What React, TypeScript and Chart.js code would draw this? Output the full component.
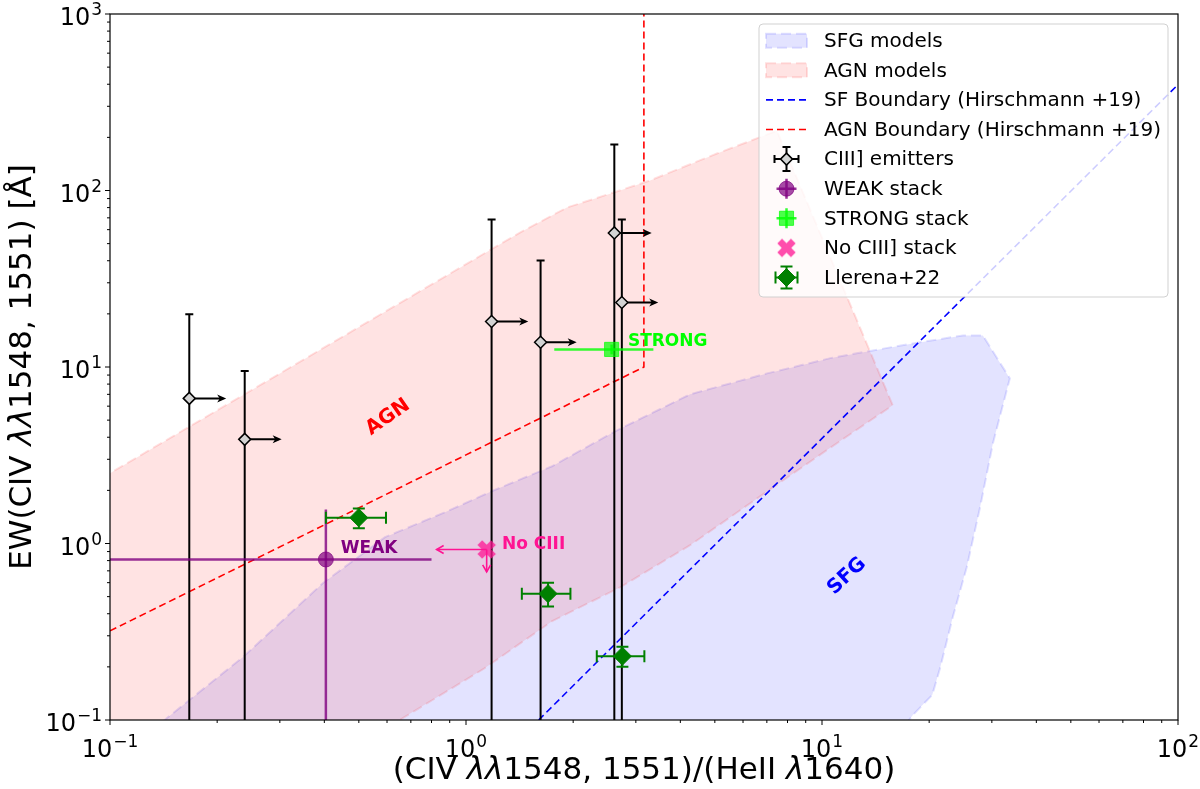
import { useEffect, useRef } from 'react';
import { Chart, registerables } from 'chart.js';

Chart.register(...registerables);

const FONT = "'DejaVu Sans', 'Liberation Sans', sans-serif";

// Tick decades (powers of ten) on each axis
const xDecades = [-1, 0, 1, 2];
const yDecades = [-1, 0, 1, 2, 3];

// Photoionisation model grids: outline of the SFG region
const sfgRatio = [0.13, 0.1445, 0.2365, 0.396, 0.592, 0.873, 1.198, 1.745, 2.656, 4.26, 7.01, 10.7, 18.0, 24.9, 28.3, 33.7, 30.2, 27.8, 25.5, 23.3, 21.5, 20.4, 18.0, 16.5, 0.13];
const sfgEW = [0.085, 0.1026, 0.2275, 0.596, 1.086, 1.503, 2.003, 2.74, 4.38, 7.0, 9.2, 11.3, 13.6, 15.1, 15.1, 8.62, 3.69, 1.605, 0.734, 0.383, 0.1995, 0.1386, 0.1067, 0.085, 0.085];

// Outline of the AGN region
const agnRatio = [0.08, 0.1, 1.418, 1.921, 2.54, 3.29, 5.07, 7.47, 15.8, 10.4, 6.65, 4.26, 2.72, 1.745, 1.117, 0.714, 0.37, 0.08, 0.08];
const agnEW = [1.92, 2.5, 57.8, 80, 96, 114, 162, 218, 6.07, 3.42, 1.83, 0.978, 0.567, 0.363, 0.194, 0.112, 0.05, 0.05, 1.92];

// Hirschmann et al. (2019) demarcation lines
const sfBoundaryRatio = [1.6, 100];
const sfBoundaryEW = [0.1, 398];
const agnBoundaryRatio = [0.1, 3.16, 3.16];
const agnBoundaryEW = [0.32, 10, 1000];

// Individual CIII] emitters (ratios are lower limits)
const ciiiRatio = [0.167, 0.239, 1.18, 1.62, 2.61, 2.74];
const ciiiEW = [6.64, 3.89, 18.1, 13.8, 57.5, 23.2];
const ciiiEWLow = [0.01, 0.01, 0.01, 0.01, 0.01, 0.01];
const ciiiEWHigh = [19.9, 9.49, 68.4, 40.1, 182, 68.4];
const ciiiRatioLimit = [0.212, 0.3035, 1.496, 2.046, 3.324, 3.467];

// Stacked spectra
const weakRatio = [0.404];
const weakEW = [0.812];
const weakRatioLow = [0.02];
const weakRatioHigh = [0.8];
const weakEWLow = [0.01];
const weakEWHigh = [1.556];

const strongRatio = [2.565];
const strongEW = [12.58];
const strongRatioLow = [1.77];
const strongRatioHigh = [3.36];
const strongEWLow = [11.8];
const strongEWHigh = [13.4];

const noCiiiRatio = [1.143];
const noCiiiEW = [0.925];
const noCiiiRatioLimit = [0.827];
const noCiiiEWLimit = [0.69];

// Llerena et al. (2022)
const llerenaRatio = [0.5, 1.7, 2.75];
const llerenaRatioErr = [0.096, 0.265, 0.42];
const llerenaEW = [1.4, 0.52, 0.23];
const llerenaEWErr = [0.18, 0.08, 0.03];

// In-plot text labels (data coordinates)
const regionLabels = [
  { text: 'AGN', x: 0.604, y: 5.19, angle: 35, color: '#ff0000' },
  { text: 'SFG', x: 11.75, y: 0.653, angle: 43, color: '#0000ff' },
];
const stackLabels = [
  { text: 'WEAK', x: 0.445, y: 0.881, color: '#800080' },
  { text: 'STRONG', x: 2.85, y: 13.08, color: '#00ff00' },
  { text: 'No CIII', x: 1.262, y: 0.929, color: '#ff1493' },
];

const pts = (xs: number[], ys: number[]) => xs.map((x, i) => ({ x, y: ys[i] }));

function makeXMarker(size: number, color: string) {
  const c = document.createElement('canvas');
  c.width = size;
  c.height = size;
  const g = c.getContext('2d')!;
  g.translate(size / 2, size / 2);
  g.rotate(Math.PI / 4);
  const arm = size * 0.46;
  const w = size * 0.16;
  g.fillStyle = color;
  g.beginPath();
  g.moveTo(-w, -arm); g.lineTo(w, -arm); g.lineTo(w, -w); g.lineTo(arm, -w);
  g.lineTo(arm, w); g.lineTo(w, w); g.lineTo(w, arm); g.lineTo(-w, arm);
  g.lineTo(-w, w); g.lineTo(-arm, w); g.lineTo(-arm, -w); g.lineTo(-w, -w);
  g.closePath();
  g.fill();
  return c;
}

function arrow(ctx: CanvasRenderingContext2D, x0: number, y0: number, x1: number, y1: number, filled: boolean) {
  const ang = Math.atan2(y1 - y0, x1 - x0);
  const len = filled ? 9 : 7;
  const hw = 4;
  ctx.beginPath();
  ctx.moveTo(x0, y0);
  ctx.lineTo(filled ? x1 - Math.cos(ang) * 3 : x1, filled ? y1 - Math.sin(ang) * 3 : y1);
  ctx.stroke();
  const bx = x1 - Math.cos(ang) * len;
  const by = y1 - Math.sin(ang) * len;
  const nx = -Math.sin(ang) * hw;
  const ny = Math.cos(ang) * hw;
  ctx.beginPath();
  if (filled) {
    ctx.moveTo(x1, y1);
    ctx.lineTo(bx + nx, by + ny);
    ctx.lineTo(bx + Math.cos(ang) * 2.5, by + Math.sin(ang) * 2.5);
    ctx.lineTo(bx - nx, by - ny);
    ctx.closePath();
    ctx.fill();
  } else {
    ctx.moveTo(bx + nx, by + ny);
    ctx.lineTo(x1, y1);
    ctx.lineTo(bx - nx, by - ny);
    ctx.stroke();
  }
}

const errorBarPlugin = {
  id: 'errorBars',
  beforeDatasetDraw(chart: any, args: any) {
    const ds = chart.data.datasets[args.index];
    const eb = ds.errorBars;
    if (!eb) return;
    const { ctx, chartArea: a } = chart;
    const X = (v: number) => chart.scales.x.getPixelForValue(v);
    const Y = (v: number) => chart.scales.y.getPixelForValue(v);
    ctx.save();
    ctx.beginPath();
    ctx.rect(a.left, a.top, a.right - a.left, a.bottom - a.top);
    ctx.clip();
    ctx.strokeStyle = eb.color;
    ctx.fillStyle = eb.color;
    ctx.lineWidth = eb.width;
    ctx.lineCap = 'butt';
    ds.data.forEach((p: any, i: number) => {
      const px = X(p.x);
      const py = Y(p.y);
      if (eb.yLow) {
        const y0 = Y(eb.yLow[i]);
        const y1 = Y(eb.yHigh[i]);
        ctx.beginPath(); ctx.moveTo(px, y0); ctx.lineTo(px, y1); ctx.stroke();
        if (eb.cap) {
          ctx.beginPath();
          ctx.moveTo(px - eb.cap, y0); ctx.lineTo(px + eb.cap, y0);
          ctx.moveTo(px - eb.cap, y1); ctx.lineTo(px + eb.cap, y1);
          ctx.stroke();
        }
      }
      if (eb.xLow) {
        const x0 = X(eb.xLow[i]);
        const x1 = X(eb.xHigh[i]);
        ctx.beginPath(); ctx.moveTo(x0, py); ctx.lineTo(x1, py); ctx.stroke();
        if (eb.cap) {
          ctx.beginPath();
          ctx.moveTo(x0, py - eb.cap); ctx.lineTo(x0, py + eb.cap);
          ctx.moveTo(x1, py - eb.cap); ctx.lineTo(x1, py + eb.cap);
          ctx.stroke();
        }
      }
      if (eb.xArrow) arrow(ctx, px, py, X(eb.xArrow[i]), py, eb.filledHead);
      if (eb.yArrow) arrow(ctx, px, py, px, Y(eb.yArrow[i]), eb.filledHead);
    });
    ctx.restore();
  },
};

function supLabel(ctx: CanvasRenderingContext2D, exp: number) {
  const main = '10';
  const sup = exp < 0 ? '\u2212' + Math.abs(exp) : String(exp);
  ctx.font = `24px ${FONT}`;
  const wm = ctx.measureText(main).width;
  ctx.font = `17px ${FONT}`;
  const ws = ctx.measureText(sup).width;
  return { main, sup, wm, ws };
}

function drawSup(ctx: CanvasRenderingContext2D, exp: number, left: number, baseline: number) {
  const s = supLabel(ctx, exp);
  ctx.fillStyle = '#000';
  ctx.textAlign = 'left';
  ctx.textBaseline = 'alphabetic';
  ctx.font = `24px ${FONT}`;
  ctx.fillText(s.main, left, baseline);
  ctx.font = `17px ${FONT}`;
  ctx.fillText(s.sup, left + s.wm + 1, baseline - 10);
}

function drawSegments(ctx: CanvasRenderingContext2D, segs: [string, boolean][], size: number, cx: number, baseline: number) {
  const widths = segs.map(([t, it]) => {
    ctx.font = `${it ? 'oblique ' : ''}${size}px ${FONT}`;
    return ctx.measureText(t).width;
  });
  const total = widths.reduce((a, b) => a + b, 0);
  let x = cx - total / 2;
  ctx.textAlign = 'left';
  ctx.textBaseline = 'alphabetic';
  ctx.fillStyle = '#000';
  segs.forEach(([t, it], i) => {
    ctx.font = `${it ? 'oblique ' : ''}${size}px ${FONT}`;
    ctx.fillText(t, x, baseline);
    x += widths[i];
  });
}

const axesPlugin = {
  id: 'axesDecor',
  afterDatasetsDraw(chart: any) {
    const { ctx, chartArea: a } = chart;
    const xs = chart.scales.x;
    const ys = chart.scales.y;
    ctx.save();

    // in-plot labels
    regionLabels.forEach((l) => {
      ctx.save();
      ctx.translate(xs.getPixelForValue(l.x), ys.getPixelForValue(l.y));
      ctx.rotate((-l.angle * Math.PI) / 180);
      ctx.font = `bold 20px ${FONT}`;
      ctx.fillStyle = l.color;
      ctx.textAlign = 'center';
      ctx.textBaseline = 'middle';
      ctx.fillText(l.text, 0, 0);
      ctx.restore();
    });
    stackLabels.forEach((l) => {
      ctx.font = `bold 17px ${FONT}`;
      ctx.fillStyle = l.color;
      ctx.textAlign = 'left';
      ctx.textBaseline = 'alphabetic';
      ctx.fillText(l.text, xs.getPixelForValue(l.x), ys.getPixelForValue(l.y));
    });

    // spines
    ctx.strokeStyle = '#000';
    ctx.lineWidth = 1.2;
    ctx.strokeRect(a.left, a.top, a.right - a.left, a.bottom - a.top);

    // ticks
    ctx.lineWidth = 1;
    ctx.beginPath();
    xDecades.forEach((d, k) => {
      const px = xs.getPixelForValue(Math.pow(10, d));
      ctx.moveTo(px, a.bottom); ctx.lineTo(px, a.bottom + 5);
      if (k < xDecades.length - 1) {
        for (let m = 2; m <= 9; m++) {
          const mx = xs.getPixelForValue(m * Math.pow(10, d));
          ctx.moveTo(mx, a.bottom); ctx.lineTo(mx, a.bottom + 3);
        }
      }
    });
    yDecades.forEach((d, k) => {
      const py = ys.getPixelForValue(Math.pow(10, d));
      ctx.moveTo(a.left, py); ctx.lineTo(a.left - 5, py);
      if (k < yDecades.length - 1) {
        for (let m = 2; m <= 9; m++) {
          const my = ys.getPixelForValue(m * Math.pow(10, d));
          ctx.moveTo(a.left, my); ctx.lineTo(a.left - 3, my);
        }
      }
    });
    ctx.stroke();

    // tick labels
    xDecades.forEach((d) => {
      const px = xs.getPixelForValue(Math.pow(10, d));
      const s = supLabel(ctx, d);
      const w = s.wm + 1 + s.ws;
      drawSup(ctx, d, px - w / 2, a.bottom + 37);
    });
    yDecades.forEach((d) => {
      const py = ys.getPixelForValue(Math.pow(10, d));
      const s = supLabel(ctx, d);
      const w = s.wm + 1 + s.ws;
      drawSup(ctx, d, a.left - 8 - w, py + 11);
    });

    // axis titles
    drawSegments(ctx, [['(CIV ', false], ['\u03bb\u03bb', true], ['1548, 1551)/(HeII ', false], ['\u03bb', true], ['1640)', false]], 31, (a.left + a.right) / 2, 779);
    ctx.save();
    ctx.translate(31, (a.top + a.bottom) / 2);
    ctx.rotate(-Math.PI / 2);
    drawSegments(ctx, [['EW(CIV ', false], ['\u03bb\u03bb', true], ['1548, 1551) [\u00c5]', false]], 31, 0, 0);
    ctx.restore();

    ctx.restore();
  },
};

function legendPlugin(xMarker: HTMLCanvasElement) {
  return {
    id: 'customLegend',
    afterDraw(chart: any) {
      const { ctx } = chart;
      const left = 759, top = 24, right = 1168, bottom = 297;
      ctx.save();
      ctx.beginPath();
      const r = 4;
      ctx.moveTo(left + r, top);
      ctx.arcTo(right, top, right, bottom, r);
      ctx.arcTo(right, bottom, left, bottom, r);
      ctx.arcTo(left, bottom, left, top, r);
      ctx.arcTo(left, top, right, top, r);
      ctx.closePath();
      ctx.fillStyle = 'rgba(255,255,255,0.8)';
      ctx.fill();
      ctx.strokeStyle = 'rgba(204,204,204,0.9)';
      ctx.lineWidth = 1;
      ctx.stroke();

      const hx0 = 766, hx1 = 807, hc = 786.5;
      chart.data.datasets.forEach((ds: any, i: number) => {
        const y = 40.7 + i * 29.6;
        const kind = ds.legendKind;
        ctx.save();
        if (kind === 'patch') {
          ctx.fillStyle = ds.backgroundColor;
          ctx.fillRect(hx0, y - 7, hx1 - hx0, 14);
          ctx.strokeStyle = ds.borderColor;
          ctx.lineWidth = 2;
          ctx.setLineDash([10, 5]);
          ctx.strokeRect(hx0, y - 7, hx1 - hx0, 14);
        } else if (kind === 'line') {
          ctx.strokeStyle = ds.borderColor;
          ctx.lineWidth = ds.borderWidth;
          ctx.setLineDash(ds.borderDash);
          ctx.beginPath(); ctx.moveTo(hx0, y); ctx.lineTo(hx1, y); ctx.stroke();
        } else if (kind === 'marker') {
          const eb = ds.errorBars;
          if (eb && !eb.noLegendBars) {
            ctx.strokeStyle = eb.color;
            ctx.lineWidth = eb.width;
            const ext = eb.legendExt || 10;
            ctx.beginPath();
            ctx.moveTo(hc - ext, y); ctx.lineTo(hc + ext, y);
            ctx.moveTo(hc, y - ext); ctx.lineTo(hc, y + ext);
            if (eb.cap) {
              ctx.moveTo(hc - ext, y - eb.cap); ctx.lineTo(hc - ext, y + eb.cap);
              ctx.moveTo(hc + ext, y - eb.cap); ctx.lineTo(hc + ext, y + eb.cap);
              ctx.moveTo(hc - eb.cap, y - ext); ctx.lineTo(hc + eb.cap, y - ext);
              ctx.moveTo(hc - eb.cap, y + ext); ctx.lineTo(hc + eb.cap, y + ext);
            }
            ctx.stroke();
          }
          const style = ds.pointStyle;
          const rad = ds.pointRadius;
          if (style instanceof HTMLCanvasElement) {
            ctx.drawImage(xMarker, hc - style.width / 2, y - style.height / 2);
          } else {
            ctx.fillStyle = ds.backgroundColor;
            ctx.strokeStyle = ds.borderColor;
            ctx.lineWidth = ds.borderWidth;
            ctx.beginPath();
            if (style === 'rectRot') {
              ctx.moveTo(hc, y - rad); ctx.lineTo(hc + rad, y); ctx.lineTo(hc, y + rad); ctx.lineTo(hc - rad, y); ctx.closePath();
            } else if (style === 'rect') {
              const h = rad * Math.SQRT1_2;
              ctx.rect(hc - h, y - h, 2 * h, 2 * h);
            } else {
              ctx.arc(hc, y, rad, 0, Math.PI * 2);
            }
            ctx.fill();
            if (ds.borderWidth) ctx.stroke();
          }
        }
        ctx.restore();
        ctx.fillStyle = '#000';
        ctx.font = `20px ${FONT}`;
        ctx.textAlign = 'left';
        ctx.textBaseline = 'middle';
        ctx.fillText(ds.label, 824, y + 1);
      });
      ctx.restore();
    },
  };
}

export default function App() {
  const ref = useRef<HTMLCanvasElement>(null);

  useEffect(() => {
    const canvas = ref.current!;
    const xMarker = makeXMarker(21, 'rgba(255,20,147,0.75)');

    const datasets: any[] = [
      {
        type: 'line', label: 'SFG models', legendKind: 'patch',
        data: pts(sfgRatio, sfgEW), fill: 'shape',
        backgroundColor: 'rgba(0,0,255,0.11)', borderColor: 'rgba(0,0,255,0.12)',
        borderDash: [10, 5], borderWidth: 2, pointRadius: 0, tension: 0, order: 20,
      },
      {
        type: 'line', label: 'AGN models', legendKind: 'patch',
        data: pts(agnRatio, agnEW), fill: 'shape',
        backgroundColor: 'rgba(255,0,0,0.11)', borderColor: 'rgba(255,0,0,0.12)',
        borderDash: [10, 5], borderWidth: 2, pointRadius: 0, tension: 0, order: 19,
      },
      {
        type: 'line', label: 'SF Boundary (Hirschmann +19)', legendKind: 'line',
        data: pts(sfBoundaryRatio, sfBoundaryEW), fill: false,
        borderColor: '#0000ff', borderDash: [7, 4], borderWidth: 1.6, pointRadius: 0, order: 18,
      },
      {
        type: 'line', label: 'AGN Boundary (Hirschmann +19)', legendKind: 'line',
        data: pts(agnBoundaryRatio, agnBoundaryEW), fill: false,
        borderColor: '#ff0000', borderDash: [7, 4], borderWidth: 1.6, pointRadius: 0, order: 17,
      },
      {
        label: 'CIII] emitters', legendKind: 'marker',
        data: pts(ciiiRatio, ciiiEW),
        pointStyle: 'rectRot', pointRadius: 6, backgroundColor: '#d3d3d3', borderColor: '#000000', borderWidth: 1.5,
        errorBars: { yLow: ciiiEWLow, yHigh: ciiiEWHigh, xArrow: ciiiRatioLimit, color: '#000000', width: 2, cap: 4, filledHead: true, legendExt: 12 },
        order: 16,
      },
      {
        label: 'WEAK stack', legendKind: 'marker',
        data: pts(weakRatio, weakEW),
        pointStyle: 'circle', pointRadius: 7.5, backgroundColor: 'rgba(128,0,128,0.7)', borderColor: 'rgba(128,0,128,0.7)', borderWidth: 1,
        errorBars: { xLow: weakRatioLow, xHigh: weakRatioHigh, yLow: weakEWLow, yHigh: weakEWHigh, color: 'rgba(128,0,128,0.8)', width: 2.5, cap: 0, legendExt: 10 },
        order: 15,
      },
      {
        label: 'STRONG stack', legendKind: 'marker',
        data: pts(strongRatio, strongEW),
        pointStyle: 'rect', pointRadius: 10, backgroundColor: 'rgba(0,255,0,0.7)', borderColor: 'rgba(0,255,0,0.7)', borderWidth: 1,
        errorBars: { xLow: strongRatioLow, xHigh: strongRatioHigh, yLow: strongEWLow, yHigh: strongEWHigh, color: 'rgba(0,255,0,0.8)', width: 2.5, cap: 0, legendExt: 10 },
        order: 14,
      },
      {
        label: 'No CIII] stack', legendKind: 'marker',
        data: pts(noCiiiRatio, noCiiiEW),
        pointStyle: xMarker, pointRadius: 10, backgroundColor: 'rgba(255,20,147,0.75)', borderWidth: 0,
        errorBars: { xArrow: noCiiiRatioLimit, yArrow: noCiiiEWLimit, color: '#ff1493', width: 1.6, cap: 0, filledHead: false, noLegendBars: true },
        order: 13,
      },
      {
        label: 'Llerena+22', legendKind: 'marker',
        data: pts(llerenaRatio, llerenaEW),
        pointStyle: 'rectRot', pointRadius: 9, backgroundColor: '#008000', borderColor: '#008000', borderWidth: 1,
        errorBars: {
          xLow: llerenaRatio.map((v, i) => v - llerenaRatioErr[i]),
          xHigh: llerenaRatio.map((v, i) => v + llerenaRatioErr[i]),
          yLow: llerenaEW.map((v, i) => v - llerenaEWErr[i]),
          yHigh: llerenaEW.map((v, i) => v + llerenaEWErr[i]),
          color: '#008000', width: 2, cap: 6, legendExt: 11,
        },
        order: 12,
      },
    ];

    const chart = new Chart(canvas, {
      type: 'scatter',
      data: { datasets },
      options: {
        animation: false,
        responsive: false,
        devicePixelRatio: 1,
        events: [],
        layout: { padding: { top: 14, right: 22, left: 0, bottom: 0 } },
        scales: {
          x: {
            type: 'logarithmic', min: 0.1, max: 100,
            grid: { display: false }, ticks: { display: false }, border: { display: false },
            afterFit: (s: any) => { s.height = 69; },
          },
          y: {
            type: 'logarithmic', min: 0.1, max: 1000,
            grid: { display: false }, ticks: { display: false }, border: { display: false },
            afterFit: (s: any) => { s.width = 110; },
          },
        },
        plugins: { legend: { display: false }, tooltip: { enabled: false } },
      } as any,
      plugins: [errorBarPlugin, axesPlugin, legendPlugin(xMarker)] as any,
    });
    return () => chart.destroy();
  }, []);

  return (
    <div style={{ position: 'absolute', left: 0, top: 0, width: 1200, height: 789, background: '#ffffff' }}>
      <canvas ref={ref} width={1200} height={789} style={{ display: 'block', width: 1200, height: 789 }} />
    </div>
  );
}
